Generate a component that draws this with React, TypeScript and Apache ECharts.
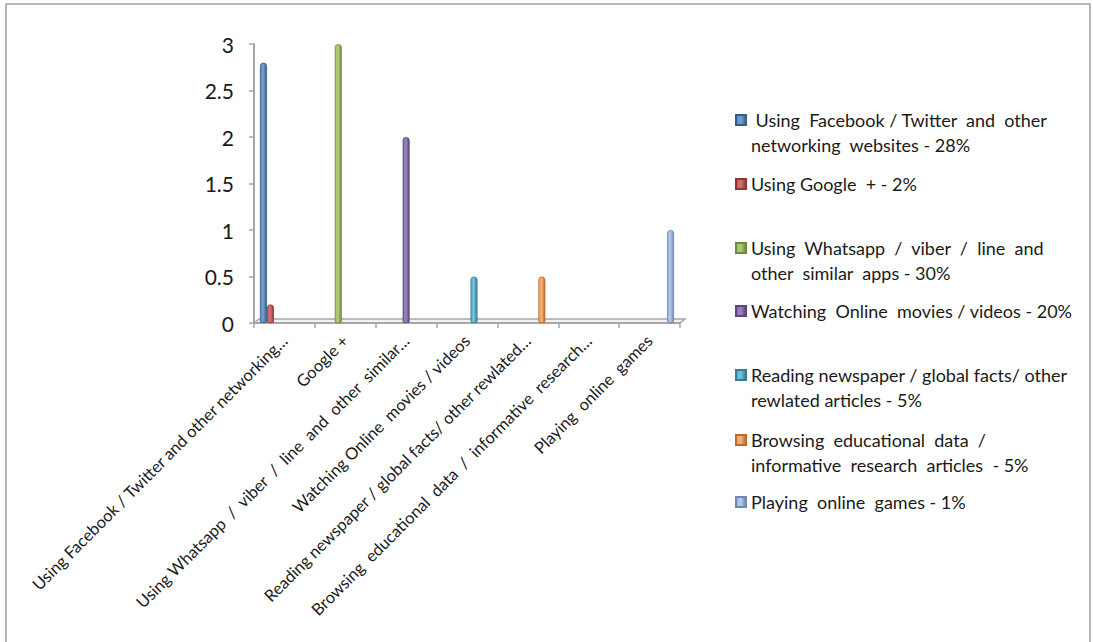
import React, { useEffect, useRef } from "react";
import * as echarts from "echarts";

const categories = [
  "Using Facebook / Twitter and other networking…",
  "Google +",
  "Using Whatsapp  /  viber  /  line  and  other  similar…",
  "Watching Online  movies / videos",
  "Reading newspaper / global facts/ other rewlated…",
  "Browsing  educational  data  /  informative  research…",
  "Playing  online  games",
];

const seriesNames = [
  "Using Facebook / Twitter and other networking websites - 28%",
  "Using Google + - 2%",
  "Using Whatsapp / viber / line and other similar apps - 30%",
  "Watching Online movies / videos - 20%",
  "Reading newspaper / global facts/ other rewlated articles - 5%",
  "Browsing educational data / informative research articles - 5%",
  "Playing online games - 1%",
];

const legendLabels = [
  " Using  Facebook / Twitter  and  other\nnetworking  websites - 28%",
  "Using Google  + - 2%",
  "Using  Whatsapp  /  viber  /  line  and\nother  similar  apps - 30%",
  "Watching  Online  movies / videos - 20%",
  "Reading newspaper / global facts/ other\nrewlated articles - 5%",
  "Browsing  educational  data  /\ninformative  research  articles  - 5%",
  "Playing  online  games - 1%",
];

const facebookValues = [2.8, null, null, null, null, null, null];
const googleValues = [0.2, null, null, null, null, null, null];
const whatsappValues = [null, 3, null, null, null, null, null];
const moviesValues = [null, null, 2, null, null, null, null];
const newspaperValues = [null, null, null, 0.5, null, null, null];
const educationValues = [null, null, null, null, 0.5, null, null];
const gamesValues = [null, null, null, null, null, null, 1];

const seriesValues = [
  facebookValues,
  googleValues,
  whatsappValues,
  moviesValues,
  newspaperValues,
  educationValues,
  gamesValues,
];

const colors = ["#4F81BD", "#C0504D", "#9BBB59", "#8064A2", "#4BACC6", "#F79646", "#95B0D9"];
const darkColors = ["#385D8A", "#8C3836", "#71893F", "#5C4776", "#357D91", "#B66D31", "#6F88B0"];
const lightColors = ["#7BA0D4", "#D87774", "#B5D07A", "#9F86C0", "#79C6DB", "#F9B27A", "#B8CCEA"];

const yTicks = [0, 0.5, 1, 1.5, 2, 2.5, 3];

const FONT = "Lato, 'Open Sans', sans-serif";

export default function App() {
  const ref = useRef<HTMLDivElement>(null);

  useEffect(() => {
    if (!ref.current) return;
    const chart = echarts.init(ref.current, undefined, { renderer: "svg" });

    const gridLeft = 254;
    const gridTop = 44;
    const gridRight = 413;
    const gridBottom = 319;
    const plotRight = 1093 - gridRight;
    const axisY = 642 - gridBottom;

    const legendFirstLineY = [120, 184, 248, 311, 375, 440, 502];
    const lineH = 25;

    const legends = seriesNames.map((name, i) => {
      const twoLine = legendLabels[i].includes("\n");
      const top = legendFirstLineY[i] - (twoLine ? lineH * 1.5 : lineH / 2);
      return {
        show: true,
        orient: "vertical",
        left: 735,
        top,
        padding: 0,
        itemWidth: 10,
        itemHeight: 10,
        icon: "rect",
        data: [name],
        selectedMode: false,
        formatter: () => (twoLine ? "\n" + legendLabels[i] : legendLabels[i]),
        textStyle: {
          fontFamily: FONT,
          fontSize: 18,
          color: "#1a1a1a",
          lineHeight: lineH,
        },
      };
    });

    const option: any = {
      animation: false,
      backgroundColor: "#ffffff",
      legend: legends,
      grid: {
        left: gridLeft,
        top: gridTop,
        right: gridRight,
        bottom: gridBottom,
        containLabel: false,
      },
      xAxis: {
        type: "category",
        data: categories,
        boundaryGap: true,
        axisLine: { show: true, lineStyle: { color: "#a6a6a6", width: 2 } },
        axisTick: { show: true, length: 5, lineStyle: { color: "#a6a6a6", width: 1.5 } },
        axisLabel: {
          interval: 0,
          rotate: 45,
          margin: 15,
          fontFamily: FONT,
          fontSize: 16.5,
          color: "#1a1a1a",
        },
        splitLine: { show: false },
      },
      yAxis: {
        type: "value",
        min: 0,
        max: 3,
        interval: 0.5,
        axisLine: { show: true, lineStyle: { color: "#a6a6a6", width: 2 } },
        axisTick: { show: true, length: 5, lineStyle: { color: "#a6a6a6", width: 1.5 } },
        axisLabel: {
          margin: 20,
          fontFamily: FONT,
          fontSize: 21,
          color: "#1a1a1a",
          formatter: (v: number) => (yTicks.includes(v) ? String(v) : ""),
        },
        splitLine: { show: false },
      },
      graphic: [
        {
          type: "rect",
          silent: true,
          shape: { x: 6, y: 4, width: 1084, height: 700 },
          style: { fill: "none", stroke: "#a0a0a0", lineWidth: 1.5 },
          z: -10,
        },
        {
          type: "polygon",
          silent: true,
          shape: {
            points: [
              [gridLeft, axisY],
              [gridLeft + 5, axisY - 4],
              [plotRight + 5, axisY - 4],
              [plotRight, axisY],
            ],
          },
          style: { fill: "#f2f2f2", stroke: "#a6a6a6", lineWidth: 1.5 },
          z: 0,
        },
      ],
      series: seriesNames.map((name, i) => ({
        name,
        type: "bar",
        data: seriesValues[i],
        barWidth: 7,
        barGap: "0%",
        z: 5,
        itemStyle: {
          color: new echarts.graphic.LinearGradient(0, 0, 1, 0, [
            { offset: 0, color: colors[i] },
            { offset: 0.45, color: lightColors[i] },
            { offset: 1, color: darkColors[i] },
          ]),
          borderColor: darkColors[i],
          borderWidth: 0.8,
          borderRadius: [3, 3, 1, 1],
        },
        emphasis: { disabled: true },
      })),
    };

    chart.setOption(option);
    return () => {
      chart.dispose();
    };
  }, []);

  return (
    <div
      ref={ref}
      style={{ position: "absolute", left: 0, top: 0, width: 1093, height: 642 }}
    />
  );
}
